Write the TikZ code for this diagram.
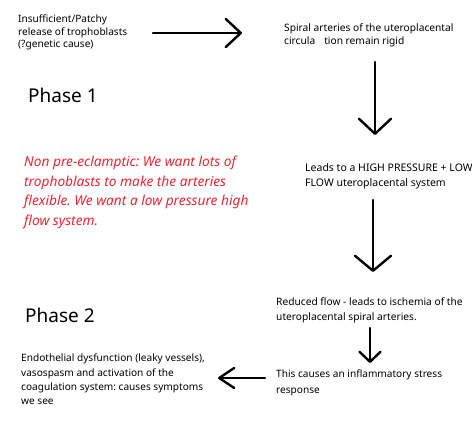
\documentclass[tikz,border=0pt]{standalone}
\usepackage{fontspec}
\setmainfont{Noto Sans}
\usetikzlibrary{arrows.meta}
\definecolor{redtxt}{RGB}{232,40,50}
\frenchspacing
\begin{document}
\begin{tikzpicture}[x=1pt,y=-1pt,
 txt/.style={anchor=north west, inner sep=0pt, align=left},
 phase/.style={anchor=north west, inner sep=0pt, font=\fontsize{19}{23}\selectfont},
 note/.style={anchor=north west, inner sep=0pt, align=left, text=redtxt, font=\fontsize{13.7}{19.5}\selectfont\itshape},
 stroke/.style={line width=2.4pt, line cap=round, line join=round},
]
\useasboundingbox (0,0) rectangle (472,427);

\node[txt, font=\fontsize{10.1}{12.2}\selectfont] (t1) at (18,15) {Insufficient/Patchy\\release of trophoblasts\\(?genetic cause)};
\node[txt, font=\fontsize{10.2}{13}\selectfont] (t2) at (284,23.5) {Spiral arteries of the uteroplacental\\circula\hspace{9pt}tion remain rigid};
\node[phase] (p1) at (28,88) {Phase 1};
\node[note] (n1) at (24,156) {Non pre-eclamptic: We want lots of\\trophoblasts to make the arteries\\flexible. We want a low pressure high\\flow system.};
\node[txt, font=\fontsize{10.5}{15}\selectfont] (t3) at (305,163) {Leads to a HIGH PRESSURE + LOW\\FLOW uteroplacental system};
\node[phase] (p2) at (25,308) {Phase 2};
\node[txt, font=\fontsize{10.2}{15}\selectfont] (t4) at (276,297) {Reduced flow - leads to ischemia of the\\uteroplacental spiral arteries.};
\node[txt, font=\fontsize{10.1}{16}\selectfont] (t5) at (276,370) {This causes an inflammatory stress\\response};
\node[txt, font=\fontsize{10.1}{14.3}\selectfont] (t6) at (21,354) {Endothelial dysfunction (leaky vessels),\\vasospasm and activation of the\\coagulation system: causes symptoms\\we see};

\coordinate (a1s) at (153,33);  \coordinate (a1e) at (242,33);
\coordinate (a2s) at (375,62);  \coordinate (a2e) at (375,135);
\coordinate (a3s) at (373,200); \coordinate (a3e) at (373,272);
\coordinate (a4s) at (370,328); \coordinate (a4e) at (370,363);
\coordinate (a5s) at (265,378); \coordinate (a5e) at (218,378);

\draw[stroke, -{Straight Barb[length=15pt,width=28pt,line cap=round,line join=round]}] (a1s) -- (a1e);
\draw[stroke, -{Straight Barb[length=15pt,width=32pt,line cap=round,line join=round]}] (a2s) -- (a2e);
\draw[stroke, -{Straight Barb[length=15pt,width=36pt,line cap=round,line join=round]}] (a3s) -- (a3e);
\draw[stroke, -{Straight Barb[length=10pt,width=21pt,line cap=round,line join=round]}] (a4s) -- (a4e);
\draw[stroke, -{Straight Barb[length=15pt,width=20pt,line cap=round,line join=round]}] (a5s) -- (a5e);
\end{tikzpicture}
\end{document}
